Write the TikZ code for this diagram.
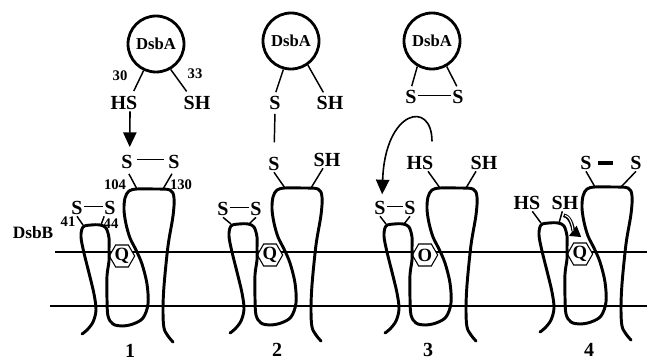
\documentclass[tikz,border=0pt]{standalone}
\usepackage{fontspec}
\setmainfont{Liberation Serif}
\usetikzlibrary{arrows.meta,shapes.geometric}

% One DsbB molecule in local coordinates (origin = quinone hexagon).
% #1 is a prefix for the anchor coordinates on the periplasmic loops.
\newcommand\dsbbbody[1]{%
  \draw[prot] plot[smooth, tension=0.55] coordinates {
    (-40,78) (-35,74) (-29,66) (-26,54) (-28,38) (-33,17) (-38,-3) (-41,-19)
    (-39,-29) (-31,-31) (-22,-31) (-16,-28) (-13,-18) (-13,-7) (-13,5)
    (-15,20) (-15,43) (-14,60) (-9,68) (0,70) (11,68) (21,62) (26,48)
    (25,28) (20,8) (14,-6) (8,-18) (4,-32) (2,-46) (3,-58) (7,-65)
    (15,-67) (32,-67) (48,-66) (52,-58) (51,-40) (46,-10) (42,30) (41,55)
    (42,72) (46,80) (51,86)};
  \coordinate (#1tl) at (15,-67);
  \coordinate (#1tr) at (41,-67);
  \coordinate (#1sl) at (-39,-31);
  \coordinate (#1sr) at (-21,-31);
}

\begin{document}
\begin{tikzpicture}[x=0.75pt, y=-0.75pt,
  lbl/.style={font=\fontsize{15}{15}\selectfont\bfseries, inner sep=1pt},
  num/.style={font=\fontsize{11}{11}\selectfont\bfseries, inner sep=0pt},
  dsba/.style={circle, draw, line width=2.1pt, minimum size=42pt, inner sep=0pt,
               font=\fontsize{12.5}{12.5}\selectfont\bfseries},
  bond/.style={line width=1.1pt},
  prot/.style={line width=2.2pt, line join=round, line cap=round},
  membrane/.style={line width=0.8pt},
  hexa/.style={regular polygon, regular polygon sides=6, draw, fill=white,
               line width=0.8pt, minimum size=19pt, inner sep=0pt},
  qtxt/.style={font=\fontsize{14}{14}\selectfont\bfseries, inner sep=0pt},
  pusharrow/.style={line width=1.2pt, -{Triangle[width=10pt,length=11pt]}},
]
\useasboundingbox (0,0) rectangle (647,360);

% membrane
\draw[membrane] (55,252) -- (647,252);
\draw[membrane] (50,306) -- (647,306);

% ---------- DsbB molecules ----------
\begin{scope}[shift={(122,256)}]
  \node[hexa] (q1) at (0,0) {};
  \dsbbbody{p1}
  \node[qtxt] (qt1) at (q1) {Q};
\end{scope}
\begin{scope}[shift={(270,255)}]
  \node[hexa] (q2) at (0,0) {};
  \dsbbbody{p2}
  \node[qtxt] (qt2) at (q2) {Q};
\end{scope}
\begin{scope}[shift={(425,255)}]
  \node[hexa] (q3) at (0,0) {};
  \dsbbbody{p3}
  \node[qtxt] (qt3) at (q3) {O};
\end{scope}
\begin{scope}[shift={(580,254)}]
  \node[hexa] (q4) at (0,0) {};
  \dsbbbody{p4}
  \node[qtxt] (qt4) at (q4) {Q};
\end{scope}

% ---------- panel 1 ----------
\node[dsba] (a1) at (156,44) {DsbA};
\node[num] (n30) at (120,76) {30};
\node[num] (n33) at (195,74) {33};
\node[lbl] (hs1) at (124,103) {HS};
\node[lbl] (sh1) at (197,103) {SH};
\draw[bond, shorten >=3pt] (a1.245) -- ([xshift=6pt]hs1.north);
\draw[bond, shorten >=3pt] (a1.300) -- ([xshift=-6pt]sh1.north);
\node[lbl] (s1a) at (127,162) {S};
\node[lbl] (s1b) at (174,162) {S};
\draw[pusharrow, shorten >=5pt] ([xshift=4.5pt]hs1.south) -- ([xshift=2pt]s1a.north);
\draw[bond, shorten <=2pt, shorten >=2pt] ([yshift=2pt]s1a.east) -- ([yshift=2pt]s1b.west);
\node[num] (n104) at (115,185) {104};
\node[num] (n130) at (181,185) {130};
\draw[bond, shorten <=3pt] (s1a.south) -- (p1tl);
\draw[bond, shorten <=3pt] (s1b.south) -- (p1tr);
\node[lbl] (t1a) at (77,208) {S};
\node[lbl] (t1b) at (110,208) {S};
\draw[bond] ([yshift=1pt]t1a.east) -- ([yshift=1pt]t1b.west);
\draw[bond] (t1a.south) -- (p1sl);
\draw[bond] ([xshift=1pt]t1b.south west) -- (p1sr);
\node[num] (n41) at (68,222) {41};
\node[num] (n44) at (111,224) {44};
\node[font=\fontsize{13}{13}\selectfont\bfseries, inner sep=0pt] (dsbb) at (33,233) {DsbB};
\node[lbl] (k1) at (130,351) {1};

% ---------- panel 2 ----------
\node[dsba] (a2) at (291,41) {DsbA};
\node[lbl] (u2a) at (275,103) {S};
\node[lbl] (u2b) at (330,103) {SH};
\draw[bond, shorten >=2pt] (a2.255) -- (u2a.north);
\draw[bond, shorten >=2pt] (a2.305) -- ([xshift=-4pt]u2b.north);
\node[lbl] (l2a) at (274,164) {S};
\node[lbl] (l2b) at (327,160) {SH};
\draw[bond, shorten <=2pt, shorten >=10pt] (u2a.south) -- (l2a.north);
\draw[bond] (l2a.south) -- (p2tl);
\draw[bond] ([xshift=-3pt]l2b.south) -- (p2tr);
\node[lbl] (t2a) at (223,209) {S};
\node[lbl] (t2b) at (256,209) {S};
\draw[bond] ([yshift=1pt]t2a.east) -- ([yshift=1pt]t2b.west);
\draw[bond] (t2a.south) -- (p2sl);
\draw[bond] (t2b.south) -- (p2sr);
\node[lbl] (k2) at (277,350) {2};

% ---------- panel 3 ----------
\node[dsba] (a3) at (432,41) {DsbA};
\node[lbl] (u3a) at (411,97) {S};
\node[lbl] (u3b) at (458,97) {S};
\draw[bond] ([yshift=1pt]u3a.east) -- ([yshift=1pt]u3b.west);
\draw[bond, shorten >=2pt] (a3.240) -- (u3a.north);
\draw[bond, shorten >=2pt] (a3.300) -- (u3b.north);
\node[lbl] (hs3) at (420,163) {HS};
\node[lbl] (sh3) at (484,163) {SH};
\draw[bond] ([xshift=6pt]hs3.south) -- (p3tl);
\draw[bond] ([xshift=-6pt]sh3.south) -- (p3tr);
\node[lbl] (s3a) at (380,208) {S};
\node[lbl] (s3b) at (410,208) {S};
\draw[bond] ([yshift=1pt]s3a.east) -- ([yshift=1pt]s3b.west);
\draw[bond] (s3a.south) -- (p3sl);
\draw[bond] (s3b.south) -- (p3sr);
\draw[pusharrow, shorten >=4pt] ([xshift=9pt,yshift=10pt]hs3.north)
  .. controls +(0,-42) and +(3,-90) .. ([xshift=1.5pt]s3a.north);
\node[lbl] (k3) at (428,350) {3};

% ---------- panel 4 ----------
\node[lbl] (u4a) at (586,163) {S};
\node[lbl] (u4b) at (636,163) {S};
\draw[line width=2.4pt, shorten <=4pt, shorten >=12pt] (u4a.east) -- (u4b.west);
\draw[bond] (u4a.south) -- (p4tl);
\draw[bond] (u4b.south) -- (p4tr);
\node[lbl] (hs4) at (527,203) {HS};
\node[lbl] (sh4) at (565,203) {SH};
\draw[bond] ([xshift=4pt]hs4.south) -- (p4sl);
\draw[bond] ([xshift=-2pt]sh4.south) -- (p4sr);
% electron transfer to the quinone
\coordinate (e4s) at ([xshift=-1pt,yshift=-3pt]sh4.south);
\coordinate (e4t) at ([xshift=1pt,yshift=4pt]q4.north);
\draw[line width=2.8pt, -{Triangle[width=9pt,length=8pt]}]
  (e4s) .. controls +(8,1) and +(-8,-6) .. (e4t);
\draw[white, line width=0.8pt, shorten <=1pt, shorten >=8pt]
  (e4s) .. controls +(8,1) and +(-8,-6) .. (e4t);
\node[lbl] (k4) at (589,350) {4};
\end{tikzpicture}
\end{document}
